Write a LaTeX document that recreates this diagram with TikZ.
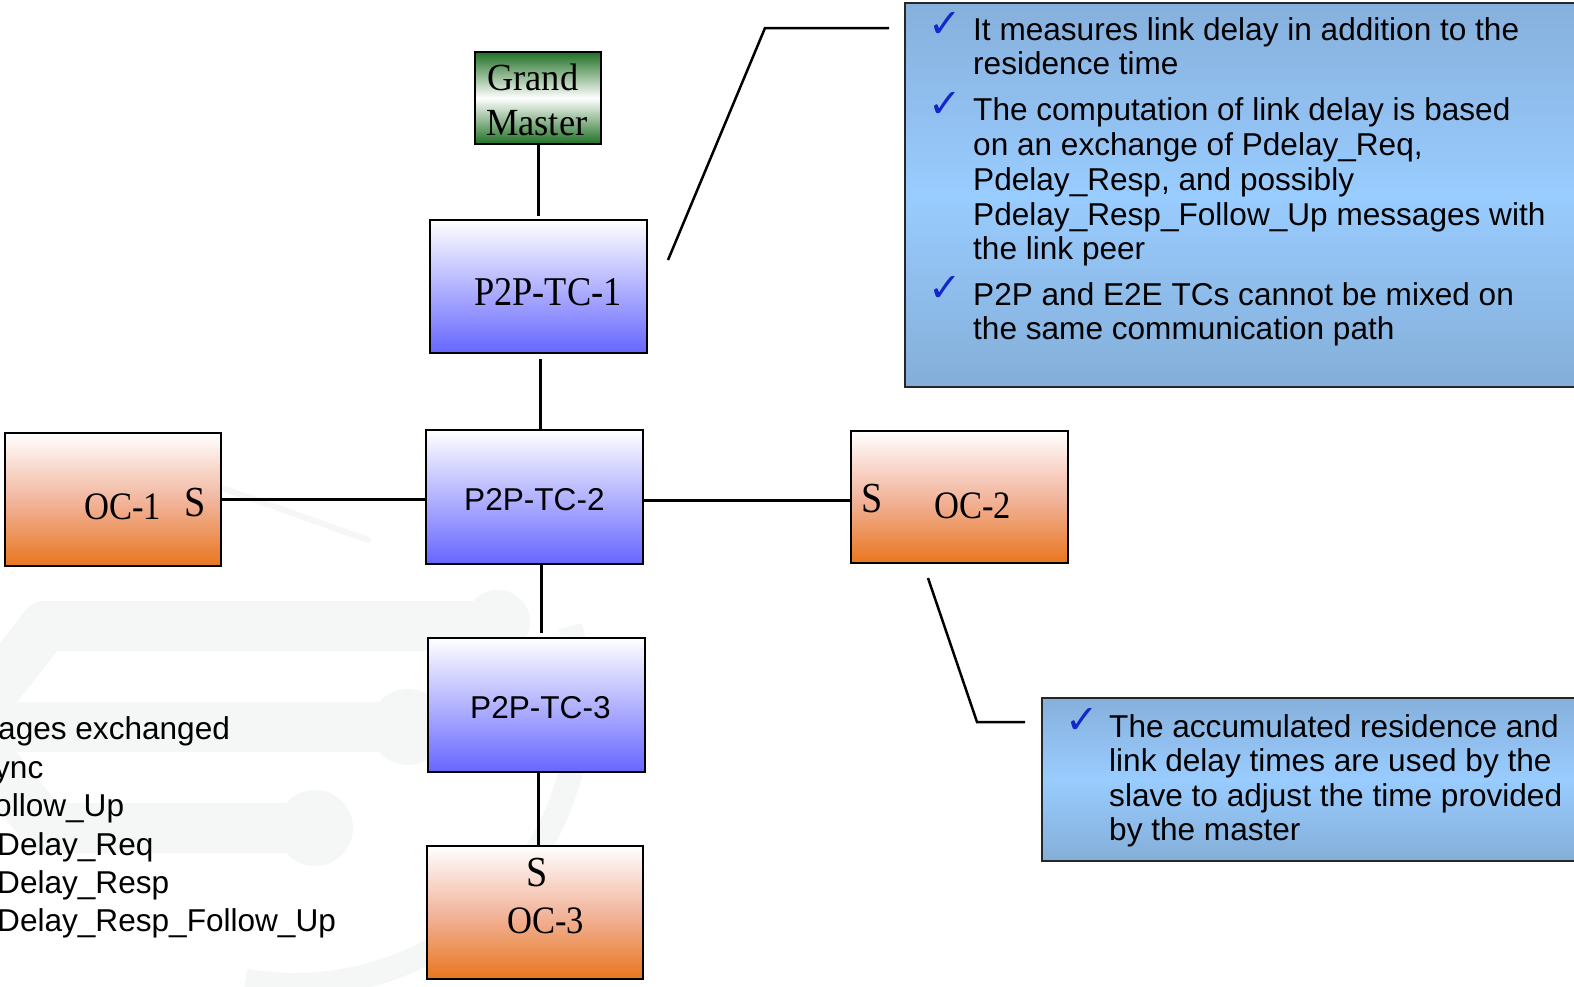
\documentclass[tikz,border=0pt]{standalone}
\usepackage{fontspec}
\setmainfont{Liberation Serif}
\newfontfamily\sansf{Liberation Sans}
\newfontfamily\serifc[FakeStretch=0.89]{Liberation Serif}
\newfontfamily\serifg[FakeStretch=0.95]{Liberation Serif}
\newfontfamily\chkf{DejaVu Sans}
\definecolor{tcblue}{RGB}{102,102,255}
\definecolor{ocorange}{RGB}{232,118,30}
\definecolor{ocmid}{RGB}{242,182,158}
\definecolor{gmgreen}{RGB}{32,112,36}
\definecolor{calltop}{RGB}{134,176,220}
\definecolor{callmid}{RGB}{153,204,255}
\definecolor{callbot}{RGB}{132,174,216}
\definecolor{chkblue}{RGB}{20,40,200}
\definecolor{wmark}{RGB}{245,247,246}
\begin{document}
\begin{tikzpicture}[x=1bp,y=-1bp,
  box/.style={draw=black, line width=2.7bp, rectangle, inner sep=0pt},
  tcbox/.style={box, top color=white, bottom color=tcblue, minimum width=217bp, minimum height=133bp},
  ocbox/.style={box, top color=white, bottom color=ocorange, middle color=ocmid, minimum width=216bp, minimum height=133bp},
  gmbox/.style={box, top color=gmgreen, bottom color=gmgreen, middle color=white, minimum width=126bp, minimum height=92bp},
  callbox/.style={draw=black!85, line width=2.5bp, rectangle, inner sep=0pt, top color=calltop, bottom color=callbot, middle color=callmid},
  sanstxt/.style={font=\sansf\fontsize{31.7}{34}\selectfont, inner sep=0pt, anchor=base west},
  gmtxt/.style={font=\serifg\fontsize{38.5}{45}\selectfont, inner sep=0pt, anchor=base west},
  tctxt/.style={font=\serifc\fontsize{41}{48}\selectfont, inner sep=0pt, anchor=base west},
  octxt/.style={font=\serifc\fontsize{39}{46}\selectfont, inner sep=0pt, anchor=base west},
  stxt/.style={font=\serifc\fontsize{43}{50}\selectfont, inner sep=0pt, anchor=base west},
  chk/.style={font=\chkf\fontsize{40}{44}\selectfont, text=chkblue, inner sep=0pt, anchor=base west},
  conn/.style={draw=black, line width=3bp},
  leader/.style={draw=black, line width=2.5bp, line join=miter},
  wm/.style={draw=wmark, line width=50bp, line join=round}
]
\useasboundingbox (0,0) rectangle (1574,986);
\fill[white] (0,0) rectangle (1574,986);

% faint background watermark
\draw[wm] (498,626) -- (45,626) -- (-35,728) -- (45,828) -- (315,828);
\draw[wm] (-20,727) -- (408,727);
\fill[wmark] (498,622) circle (32);
\fill[wmark] (408,727) circle (38);
\fill[wmark] (315,828) circle (38);
\draw[draw=wmark, line width=24bp] (295,700) ++(100:285) arc[start angle=100, end angle=-15, radius=285];
\draw[draw=wmark, line width=6bp, line cap=round] (225,489) -- (368,540);

% boxes
\node[gmbox] (gm) at (538,98) {};
\node[tcbox] (tc1) at (538.5,286.5) {};
\node[tcbox, minimum height=134bp] (tc2) at (534.5,497) {};
\node[tcbox, minimum height=134bp] (tc3) at (536.5,705) {};
\node[ocbox] (oc1) at (113,499.5) {};
\node[ocbox, minimum width=217bp, minimum height=132bp] (oc2) at (959.5,497) {};
\node[ocbox] (oc3) at (535,912.5) {};
\node[callbox, minimum width=695bp, minimum height=384bp] (call1) at (1252.5,195) {};
\node[callbox, minimum width=558bp, minimum height=163bp] (call2) at (1321,779.5) {};

% connectors
\draw[conn, shorten >=3bp] (gm.south) -- (gm.south |- tc1.north);
\draw[conn, shorten <=5bp] ([xshift=1.5bp]tc1.south) -- ([xshift=1.5bp]tc1.south |- tc2.north);
\draw[conn, shorten >=4bp] ([xshift=6.5bp]tc2.south) -- ([xshift=6.5bp]tc2.south |- tc3.north);
\draw[conn] ([xshift=1.5bp]tc3.south) -- ([xshift=1.5bp]tc3.south |- oc3.north);
\draw[conn] (oc1.east) -- (oc1.east -| tc2.west);
\draw[conn] ([yshift=-3bp]tc2.east) -- ([yshift=-3bp]tc2.east -| oc2.west);

% leaders to callouts
\coordinate (l1a) at (668,260);
\coordinate (l1b) at (765,28);
\coordinate (l1c) at (889,28);
\draw[leader] (l1a) -- (l1b) -- (l1c);
\coordinate (l2a) at (928,578);
\coordinate (l2b) at (977,722);
\coordinate (l2c) at (1025,722);
\draw[leader] (l2a) -- (l2b) -- (l2c);

% box texts
\node[gmtxt] (gmt1) at (487,90) {Grand};
\node[gmtxt] (gmt2) at (486,135) {Master};
\node[tctxt] (tc1t) at (474,305) {P2P-TC-1};
\node[sanstxt] (tc2t) at (464,510) {P2P-TC-2};
\node[sanstxt] (tc3t) at (470,718) {P2P-TC-3};
\node[octxt] (oc1t) at (84,519) {OC-1};
\node[stxt] (oc1s) at (184,516) {S};
\node[stxt] (oc2s) at (861,512) {S};
\node[octxt] (oc2t) at (934,518) {OC-2};
\node[stxt] (oc3s) at (526,886) {S};
\node[octxt] (oc3t) at (507,933) {OC-3};

% callout 1 text
\node[chk] (c1a) at (928,37) {✓};
\node[chk] (c1b) at (928,117) {✓};
\node[chk] (c1c) at (928,301) {✓};
\node[sanstxt] (t11) at (973,40) {It measures link delay in addition to the};
\node[sanstxt] (t12) at (973,74) {residence time};
\node[sanstxt] (t21) at (973,120) {The computation of link delay is based};
\node[sanstxt] (t22) at (973,155) {on an exchange of Pdelay\_Req,};
\node[sanstxt] (t23) at (973,190) {Pdelay\_Resp, and possibly};
\node[sanstxt] (t24) at (973,225) {Pdelay\_Resp\_Follow\_Up messages with};
\node[sanstxt] (t25) at (973,259) {the link peer};
\node[sanstxt] (t31) at (973,305) {P2P and E2E TCs cannot be mixed on};
\node[sanstxt] (t32) at (973,339) {the same communication path};

% callout 2 text
\node[chk] (c2a) at (1065,733) {✓};
\node[sanstxt] (u1) at (1109,737) {The accumulated residence and};
\node[sanstxt] (u2) at (1109,771) {link delay times are used by the};
\node[sanstxt] (u3) at (1109,806) {slave to adjust the time provided};
\node[sanstxt] (u4) at (1109,840) {by the master};

% left list (cut by the page edge)
\node[sanstxt] (m1) at (-2,739) {ages exchanged};
\node[sanstxt] (m2) at (-6,778) {ync};
\node[sanstxt] (m3) at (-6,816) {ollow\_Up};
\node[sanstxt] (m4) at (-3,855) {Delay\_Req};
\node[sanstxt] (m5) at (-3,893) {Delay\_Resp};
\node[sanstxt] (m6) at (-3,931) {Delay\_Resp\_Follow\_Up};
\end{tikzpicture}
\end{document}
